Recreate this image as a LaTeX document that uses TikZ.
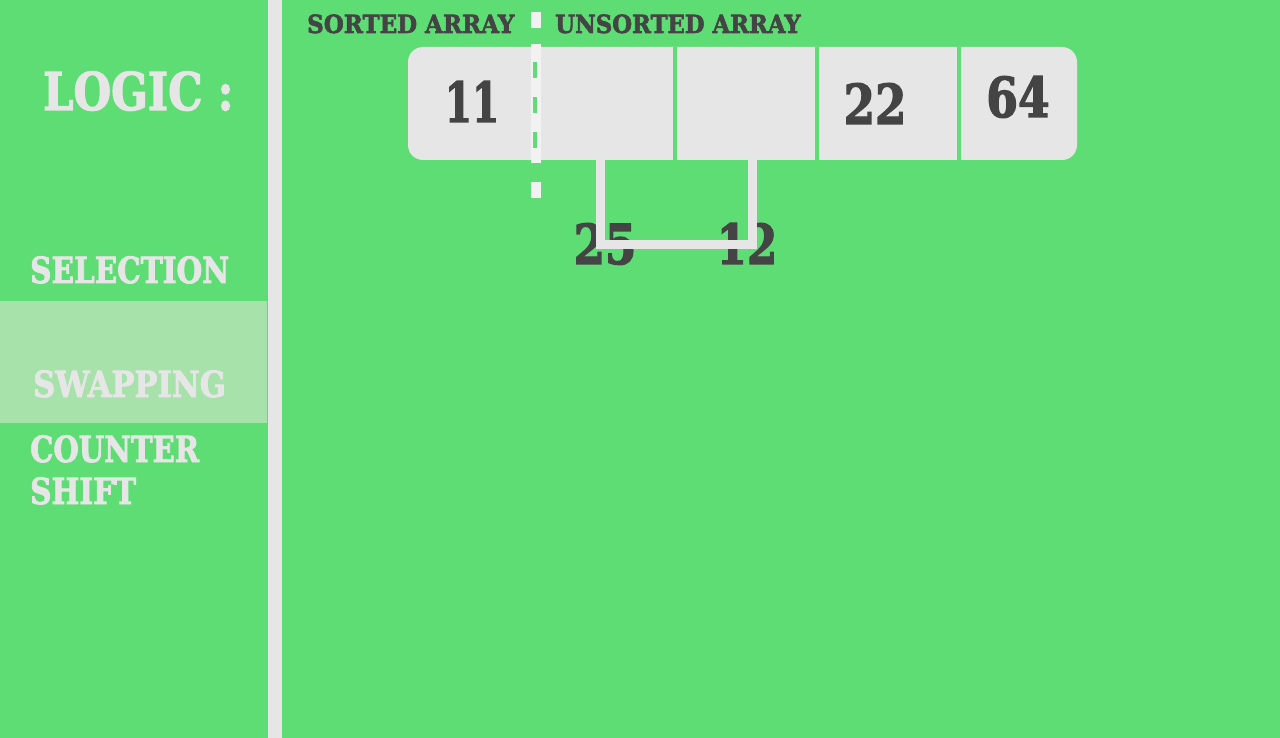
\documentclass[tikz,border=0pt]{standalone}
\usepackage{fontspec}
\usepackage{graphicx}
\setmainfont{DejaVu Serif}[BoldFeatures={FakeBold=2.5}]
\definecolor{bg}{RGB}{95,221,117}
\definecolor{hl}{RGB}{166,226,170}
\definecolor{lg}{RGB}{230,230,230}
\definecolor{wh}{RGB}{242,242,242}
\definecolor{dk}{RGB}{68,68,68}
\newcommand\sx[2]{\scalebox{#1}[1]{#2}}
\begin{document}
\begin{tikzpicture}[x=1pt,y=-1pt,
 lbl/.style={inner sep=0, anchor=base west, text=lg, font=\bfseries\fontsize{36}{36}\selectfont},
 ttl/.style={inner sep=0, anchor=base west, text=lg, font=\bfseries\fontsize{52}{52}\selectfont},
 num/.style={inner sep=0, anchor=base, text=dk, font=\bfseries\fontsize{55}{55}\selectfont},
 hdr/.style={inner sep=0, anchor=base west, text=dk, font=\bfseries\fontsize{25}{25}\selectfont},
 sep/.style={draw=bg, line width=4pt},
 brk/.style={draw=lg, line width=9pt, line cap=rect, line join=miter}]
\fill[bg] (0,0) rectangle (1280,738);
\useasboundingbox (0,0) rectangle (1280,738);
% left panel
\fill[hl] (0,301) rectangle (267,423);
\fill[lg] (268,0) rectangle (282,738);
\node[ttl] (logic) at (43,110) {\sx{0.83}{LOGIC :}};
\node[lbl] (sel) at (30,283) {\sx{0.82}{SELECTION}};
\node[lbl] (swp) at (33,397) {\sx{0.85}{SWAPPING}};
\node[lbl] (cnt) at (30,462) {\sx{0.81}{COUNTER}};
\node[lbl] (sft) at (30,504) {\sx{0.82}{SHIFT}};
% headers
\node[hdr] (sorted) at (307,33) {\sx{0.92}{SORTED ARRAY}};
\node[hdr] (unsorted) at (555,33) {\sx{0.91}{UNSORTED ARRAY}};
% numbers below (behind bracket)
\node[num] (n25) at (605,264) {\sx{0.82}{25}};
\node[num] (n12) at (747,264) {\sx{0.79}{12}};
% array box
\fill[lg, rounded corners=15pt] (408,47) rectangle (1077,160);
\coordinate (s1t) at (675,47); \coordinate (s1b) at (675,160);
\coordinate (s2t) at (817,47); \coordinate (s2b) at (817,160);
\coordinate (s3t) at (959,47); \coordinate (s3b) at (959,160);
\draw[sep] (s1t) -- (s1b);
\draw[sep] (s2t) -- (s2b);
\draw[sep] (s3t) -- (s3b);
\node[num] (n11) at (472,122) {\sx{0.71}{11}};
\node[num] (n22) at (875,124) {\sx{0.82}{22}};
\node[num] (n64) at (1018,117) {\sx{0.83}{64}};
% dashed divider
\fill[wh] (531,44) rectangle (541,163);
\fill[wh] (531,12) rectangle (541,28);
\fill[wh] (531,182) rectangle (541,198);
\fill[bg] (533,62) rectangle (537,78);
\fill[bg] (533,97) rectangle (537,113);
\fill[bg] (533,132) rectangle (537,148);
% bracket
\coordinate (c2b) at (600,160);
\coordinate (c3b) at (752,160);
\coordinate (bot) at (676,245);
\draw[brk] (c2b) -- (c2b |- bot) -- (c3b |- bot) -- (c3b);
\end{tikzpicture}
\end{document}
